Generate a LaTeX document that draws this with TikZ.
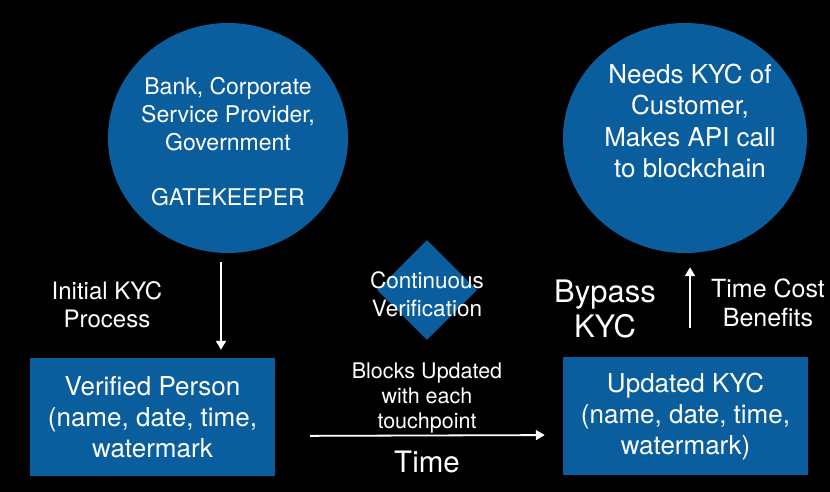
\documentclass[tikz,border=0pt]{standalone}
\usepackage{fontspec}
\setmainfont{TeX Gyre Heros}
\usetikzlibrary{shapes.geometric,arrows.meta}
\definecolor{kycblue}{RGB}{11,94,158}
\tikzset{
  blueshape/.style={fill=kycblue, draw=none, inner sep=0pt},
  lbl/.style={text=white, align=center, inner sep=0pt},
  arr/.style={draw=white, line width=1.8pt, -{Triangle[length=9pt,width=10pt]}},
}
\newcommand{\fs}[2]{\fontsize{#1}{#2}\selectfont}
\begin{document}
\begin{tikzpicture}[x=1pt,y=-1pt]
\fill[black] (0,0) rectangle (830,492);
\useasboundingbox (0,0) rectangle (830,492);
% shapes
\node[blueshape, ellipse, minimum width=240pt, minimum height=230pt] (gate) at (228,138) {};
\node[blueshape, ellipse, minimum width=244pt, minimum height=230pt] (api) at (685,138) {};
\node[blueshape, diamond, minimum width=100pt, minimum height=100pt] (dia) at (427,290) {};
\node[blueshape, minimum width=245pt, minimum height=118pt] (vp) at (152.5,417) {};
\node[blueshape, minimum width=245pt, minimum height=118pt] (uk) at (685.5,416) {};
% texts
\node[lbl, font=\fs{23}{27.7}] (gatetxt) at (228,142) {Bank, Corporate\\Service Provider,\\Government\\[27.7pt]GATEKEEPER};
\node[lbl, font=\fs{26}{31.5}] (apitxt) at (690,121) {Needs KYC of\\Customer,\\Makes API call\\to blockchain};
\node[lbl, font=\fs{22.5}{28}] (diatxt) at (427,294) {Continuous\\Verification};
\node[lbl, font=\fs{26}{31}] (vptxt) at (152.5,417) {Verified Person\\(name, date, time,\\watermark};
\node[lbl, font=\fs{26}{31}] (uktxt) at (685.5,417) {Updated KYC\\(name, date, time,\\watermark)};
\node[lbl, font=\fs{24}{28}] (initial) at (107,305) {Initial KYC\\Process};
\node[lbl, font=\fs{21.5}{25}] (blocks) at (427,398) {Blocks Updated\\with each\\touchpoint};
\node[lbl, font=\fs{29.5}{34}] (time) at (427,462) {Time};
\node[lbl, font=\fs{31}{35}] (bypass) at (605,308.5) {Bypass\\KYC};
\node[lbl, font=\fs{25}{29}] (tcb) at (768,302.5) {Time Cost\\Benefits};
% connectors
\draw[arr, shorten <=9pt, shorten >=8pt] ([xshift=-7pt]gate.south) -- ([xshift=-7pt]gate.south |- vp.north);
\draw[arr, shorten <=35pt, shorten >=18pt] ([yshift=-19pt]vp.east) -- ([yshift=-19pt]uk.west);
\draw[arr, shorten <=29pt, shorten >=14pt] ([xshift=4.5pt]uk.north) -- ([xshift=4.5pt]uk.north |- api.south);
\end{tikzpicture}
\end{document}
